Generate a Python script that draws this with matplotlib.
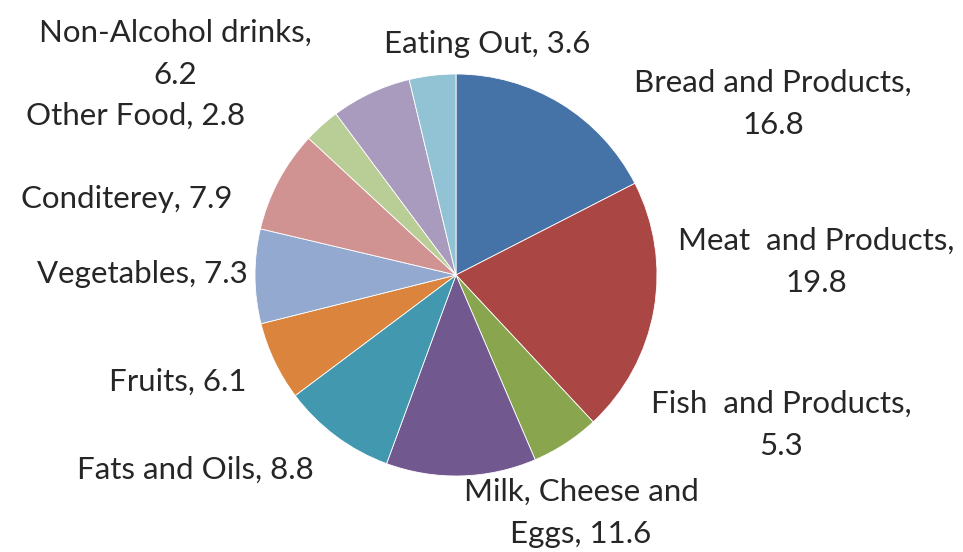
import matplotlib
matplotlib.use("Agg")
import matplotlib.pyplot as plt

categories = ["Bread and Products", "Meat  and Products", "Fish  and Products",
              "Milk, Cheese and\nEggs", "Fats and Oils", "Fruits", "Vegetables",
              "Conditerey", "Other Food", "Non-Alcohol drinks", "Eating Out"]
values = [16.8, 19.8, 5.3, 11.6, 8.8, 6.1, 7.3, 7.9, 2.8, 6.2, 3.6]
label_text = ["Bread and Products,\n16.8", "Meat  and Products,\n19.8",
              "Fish  and Products,\n5.3", "Milk, Cheese and\nEggs, 11.6",
              "Fats and Oils, 8.8", "Fruits, 6.1", "Vegetables, 7.3",
              "Conditerey, 7.9", "Other Food, 2.8", "Non-Alcohol drinks,\n6.2",
              "Eating Out, 3.6"]
colors = ["#4572A7", "#AA4643", "#89A54E", "#71588F", "#4198AF", "#DB843D",
          "#93A9CF", "#D19392", "#B9CD96", "#A99BBD", "#92C3D4"]

# label anchor positions (pie radius = 1)
label_pos = [(1.577, 0.851), (1.791, 0.065), (1.617, -0.746), (0.622, -1.184),
             (-1.299, -0.970), (-1.383, -0.532), (-1.562, 0.005), (-1.637, 0.378),
             (-1.592, 0.791), (-1.398, 1.100), (0.154, 1.150)]

W, H = 963, 552
fig = plt.figure(figsize=(W / 100, H / 100), dpi=100)
cx, cy, r = 456, 552 - 275, 201
ax = fig.add_axes([(cx - r) / W, (cy - r) / H, 2 * r / W, 2 * r / H])

ax.pie(values, colors=colors, startangle=90, counterclock=False, radius=1,
       wedgeprops=dict(edgecolor="white", linewidth=0.6))
ax.set_xlim(-1, 1)
ax.set_ylim(-1, 1)
ax.set_aspect("equal")
ax.axis("off")

for txt, (x, y) in zip(label_text, label_pos):
    ax.text(x, y, txt, ha="center", va="center", fontsize=22.5, family="Lato",
            color="#262626", linespacing=1.65, clip_on=False)

fig.savefig("out.png", dpi=100, facecolor="white")
